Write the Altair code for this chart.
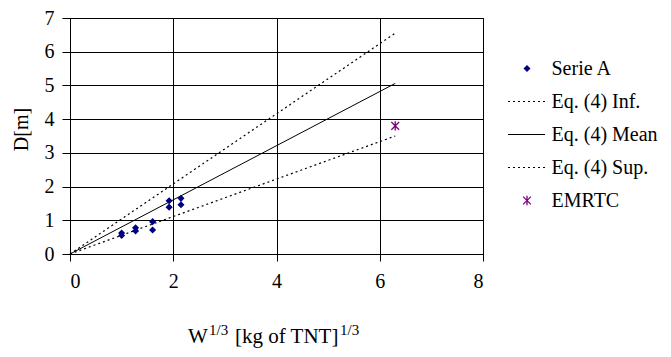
import altair as alt
import pandas as pd

# ---------------- data ----------------
serie_a_x = [1.0, 1.0, 1.27, 1.27, 1.6, 1.6, 1.92, 1.92, 2.15, 2.15]
serie_a_y = [0.62, 0.55, 0.78, 0.68, 0.96, 0.71, 1.58, 1.39, 1.65, 1.46]
line_x = [0.0, 6.3]
eq_inf_y = [0.0, 6.55]
eq_mean_y = [0.0, 5.06]
eq_sup_y = [0.0, 3.5]
emrtc_x = [6.3]
emrtc_y = [3.8]
legend_labels = ["Serie A", "Eq. (4) Inf.", "Eq. (4) Mean", "Eq. (4) Sup.", "EMRTC"]
x_ticks = [0, 2, 4, 6, 8]
y_ticks = [0, 1, 2, 3, 4, 5, 6, 7]
y_title = "D[m]"
x_title_parts = ["W", "1/3", "[kg of TNT]", "1/3"]

FONT = "Liberation Serif, Times New Roman, DejaVu Serif, serif"
W, H = 413, 236
TOP = 10
NAVY = "#000080"
PURPLE = "#800080"
STAR = "M-1,-1L1,1M-1,1L1,-1M0,-1.2L0,1.2"

xs = alt.Scale(domain=[0, 8], nice=False)
ys = alt.Scale(domain=[0, 7], nice=False)

x_axis = alt.Axis(values=x_ticks, title=None, tickSize=7, labelPadding=10,
                  grid=True, labelAngle=0)
y_axis = alt.Axis(values=y_ticks, title=None, tickSize=8, labelPadding=8,
                  grid=True)

pts = pd.DataFrame({"x": serie_a_x, "y": serie_a_y})
inf_df = pd.DataFrame({"x": line_x, "y": eq_inf_y})
mean_df = pd.DataFrame({"x": line_x, "y": eq_mean_y})
sup_df = pd.DataFrame({"x": line_x, "y": eq_sup_y})
em_df = pd.DataFrame({"x": emrtc_x, "y": emrtc_y})

DASH = [2, 3]

def enc(ch):
    return ch.encode(x=alt.X("x:Q", scale=xs, axis=x_axis), y=alt.Y("y:Q", scale=ys, axis=y_axis))

inf_line = enc(alt.Chart(inf_df).mark_line(color="black", strokeWidth=1.2, strokeDash=DASH))
mean_line = enc(alt.Chart(mean_df).mark_line(color="black", strokeWidth=1))
sup_line = enc(alt.Chart(sup_df).mark_line(color="black", strokeWidth=1.2, strokeDash=DASH))
serie_pts = enc(alt.Chart(pts).mark_point(shape="diamond", filled=True, color=NAVY, size=50, opacity=1))
em_pts = enc(alt.Chart(em_df).mark_point(shape=STAR, filled=False, color=PURPLE, strokeWidth=1.3, size=60, opacity=1))

one = pd.DataFrame({"k": [0]})

def txt(s, x, y, size=20, align="left", baseline="alphabetic", angle=0):
    return alt.Chart(pd.DataFrame({"t": [s]})).mark_text(
        font=FONT, fontSize=size, color="black", align=align, baseline=baseline, angle=angle
    ).encode(text="t:N", x=alt.value(x), y=alt.value(y))

# axis titles (page coords minus plot origin at (70, 8+TOP))
oy = 8 + TOP
x_title = [
    txt(x_title_parts[0], 118, 343 - oy, size=21),
    txt(x_title_parts[1], 139, 335 - oy, size=15),
    txt(x_title_parts[2], 165, 343 - oy, size=21),
    txt(x_title_parts[3], 270, 335 - oy, size=15),
]
y_title_t = txt(y_title, -48, 129.5 - oy, align="center", baseline="middle", angle=270)

# legend
rows = [r - oy for r in [68.5, 101.5, 134.5, 167.5, 200.5]]
LX0, LX1, LM, LT = 438, 475, 457, 481.5
leg = []
leg.append(alt.Chart(one).mark_point(shape="diamond", filled=True, color=NAVY, size=50, opacity=1).encode(
    x=alt.value(LM), y=alt.value(rows[0])))
leg.append(alt.Chart(one).mark_rule(color="black", strokeWidth=1.2, strokeDash=DASH).encode(
    x=alt.value(LX0), x2=alt.value(LX1), y=alt.value(rows[1])))
leg.append(alt.Chart(one).mark_rule(color="black", strokeWidth=1).encode(
    x=alt.value(LX0), x2=alt.value(LX1), y=alt.value(rows[2])))
leg.append(alt.Chart(one).mark_rule(color="black", strokeWidth=1.2, strokeDash=DASH).encode(
    x=alt.value(LX0), x2=alt.value(LX1), y=alt.value(rows[3])))
leg.append(alt.Chart(one).mark_point(shape=STAR, filled=False, color=PURPLE, strokeWidth=1.3, size=60, opacity=1).encode(
    x=alt.value(LM), y=alt.value(rows[4])))
for lab, r in zip(legend_labels, rows):
    leg.append(txt(lab, LT, r, baseline="middle"))

chart = alt.layer(inf_line, mean_line, sup_line, serie_pts, em_pts, *x_title, y_title_t, *leg).properties(
    width=W, height=H,
    autosize=alt.AutoSizeParams(type="none"),
    padding={"left": 62, "top": TOP, "right": 180, "bottom": 100},
    background="white",
).configure_view(
    stroke="black", strokeWidth=1
).configure_axis(
    gridColor="black", gridOpacity=1, gridWidth=1,
    domainColor="black", tickColor="black", labelColor="black",
    labelFont=FONT, labelFontSize=20, labelOverlap=False,
)

chart.save("out.html", embed_options={"renderer": "svg", "actions": False})
